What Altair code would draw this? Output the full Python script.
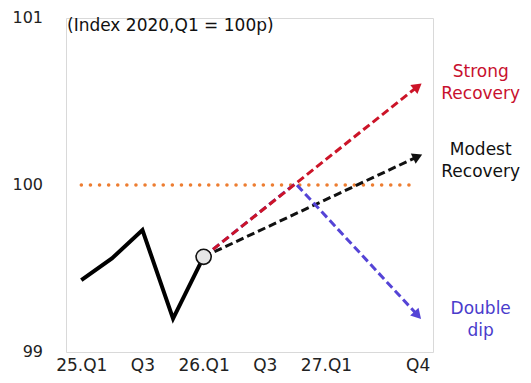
import math
import altair as alt
import pandas as pd

# ---- data ----
quarters = ["25.Q1", "25.Q2", "25.Q3", "25.Q4",
            "26.Q1", "26.Q2", "26.Q3", "26.Q4",
            "27.Q1", "27.Q2", "27.Q3", "27.Q4"]
axis_quarters = ["25.Q1", "25.Q3", "26.Q1", "26.Q3", "27.Q1", "27.Q4"]

actual_q = ["25.Q1", "25.Q2", "25.Q3", "25.Q4", "26.Q1"]
actual_v = [99.43, 99.56, 99.73, 99.20, 99.57]

strong_q = ["26.Q1", "27.Q4"]
strong_v = [99.57, 100.59]

modest_q = ["26.Q1", "27.Q4"]
modest_v = [99.57, 100.17]

dip_q = ["26.Q1", "26.Q4", "27.Q4"]
dip_v = [99.57, 100.01, 99.22]

base_q = ["25.Q1", "27.Q4"]
base_v = [100, 100]

y_ticks = [99, 100, 101]
y_tick_labels = ["99", "100", "101"]

scenario_names = ["Modest\nRecovery", "Double\ndip", "Strong\nRecovery"]
scenario_q = [modest_q, dip_q, strong_q]
scenario_v = [modest_v, dip_v, strong_v]
scenario_colors = ["#111111", "#5544d6", "#cc1428"]
label_colors = ["#111111", "#4a3ccc", "#c8102e"]
label_dy = [-7, -6, -14]

FONT = "DejaVu Sans"
W, H = 367, 334
Y_MIN, Y_MAX = 99, 101

x_scale = alt.Scale(domain=quarters, type="point", padding=0.5)
y_scale = alt.Scale(domain=[Y_MIN, Y_MAX], zero=False, nice=False)

x_enc = alt.X("q:O", scale=x_scale, sort=quarters,
              axis=alt.Axis(values=axis_quarters, title=None, labelAngle=0,
                            labelExpr="indexof(datum.value,'Q1')>=0 ? datum.value : split(datum.value,'.')[1]",
                            domain=False, ticks=False, grid=False, labelOverlap=False,
                            labelFont=FONT, labelFontSize=17, labelColor="#222222",
                            labelPadding=5))
y_enc = alt.Y("v:Q", scale=y_scale, axis=None)

def df(qs, vs):
    return pd.DataFrame({"q": qs, "v": vs, "o": list(range(len(qs)))})

layers = []

# y tick labels (drawn through the y scale)
layers.append(alt.Chart(pd.DataFrame({"v": y_ticks, "t": y_tick_labels})).mark_text(
    font=FONT, fontSize=16, color="#222222", align="right", baseline="middle"
).encode(x=alt.value(-23), y=y_enc, text="t:N"))

# baseline 100 dotted
layers.append(alt.Chart(df(base_q, base_v)).mark_line(
    color="#ED7D31", strokeWidth=3.5, strokeDash=[0.1, 9], strokeCap="round"
).encode(x=x_enc, y=y_enc, order="o:Q"))

step_px = W / 12.0
unit_px = H / (Y_MAX - Y_MIN)

for name, qs, vs, col, lcol, ddy in zip(scenario_names, scenario_q, scenario_v,
                                        scenario_colors, label_colors, label_dy):
    layers.append(alt.Chart(df(qs, vs)).mark_line(
        color=col, strokeWidth=3, strokeDash=[8, 4]
    ).encode(x=x_enc, y=y_enc, order="o:Q"))
    # arrowhead at the end, rotated along the last segment
    i0, i1 = quarters.index(qs[-2]), quarters.index(qs[-1])
    dxp = (i1 - i0) * step_px
    dyp = (vs[-1] - vs[-2]) * unit_px
    ang = (-math.degrees(math.atan2(dyp, dxp))) % 360
    end = pd.DataFrame({"q": [qs[-1]], "v": [vs[-1]], "ang": [ang]})
    layers.append(alt.Chart(end).mark_point(
        shape="triangle-right", filled=True, color=col, size=130, opacity=1
    ).encode(x=x_enc, y=y_enc, angle=alt.Angle("ang:Q", scale=None)))
    lab = pd.DataFrame({"q": [qs[-1]], "v": [vs[-1]], "t": [name]})
    layers.append(alt.Chart(lab).mark_text(
        font=FONT, fontSize=17, color=lcol, align="center", baseline="middle",
        lineBreak="\n", lineHeight=22, dx=63, dy=ddy
    ).encode(x=x_enc, y=y_enc, text="t:N"))

# actual solid line
layers.append(alt.Chart(df(actual_q, actual_v)).mark_line(
    color="#000000", strokeWidth=4
).encode(x=x_enc, y=y_enc, order="o:Q"))

# marker at last actual point
layers.append(alt.Chart(df(actual_q[-1:], actual_v[-1:])).mark_point(
    shape="circle", filled=True, fill="#e6e6e6", stroke="#111111",
    strokeWidth=1.6, size=230, opacity=1
).encode(x=x_enc, y=y_enc))

# subtitle
layers.append(alt.Chart(pd.DataFrame({"t": ["(Index 2020,Q1 = 100p)"]})).mark_text(
    font=FONT, fontSize=17, color="#111111", align="left", baseline="middle"
).encode(x=alt.value(1), y=alt.value(8), text="t:N"))

chart = alt.layer(*layers).properties(
    width=W, height=H,
    autosize=alt.AutoSizeParams(type="none"),
    padding={"left": 58, "top": 10, "right": 90, "bottom": 23},
    background="white"
).configure_view(stroke="#d9d9d9", strokeWidth=1)

chart.save("out.html", embed_options={"renderer": "svg", "actions": False})
